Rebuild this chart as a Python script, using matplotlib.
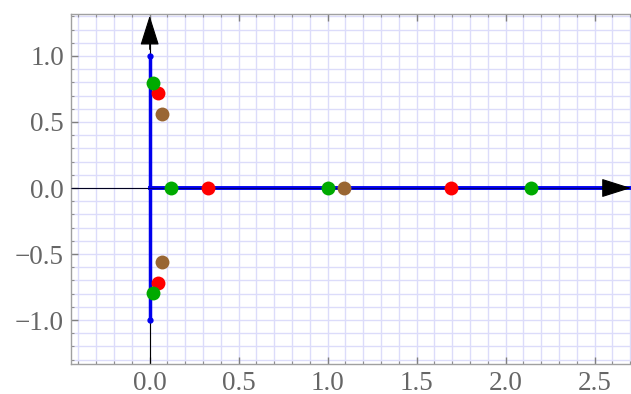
import numpy as np
import matplotlib.pyplot as plt
from matplotlib.ticker import MultipleLocator

# Point data
green_x = [0.02, 0.02, 0.118, 1.0, 2.143]
green_y = [0.795, -0.795, 0.0, 0.0, 0.0]
red_x = [0.048, 0.048, 0.33, 1.69]
red_y = [0.718, -0.718, 0.0, 0.0]
brown_x = [0.07, 0.07, 1.093]
brown_y = [0.563, -0.563, 0.0]

# Blue segments: vertical cut and positive real axis
vert_x = [0.0, 0.0]
vert_y = [-1.0, 1.0]
horiz_x = [0.0, 2.72]
horiz_y = [0.0, 0.0]

xlim = (-0.442, 2.704)
ylim = (-1.333, 1.318)

fig = plt.figure(figsize=(6.31, 3.94), dpi=100)
ax = fig.add_axes([71 / 631, 30 / 394, 560 / 631, 350 / 394])
ax.set_xlim(*xlim)
ax.set_ylim(*ylim)

# Fine grid
grid_col = '#dcdcfa'
for gx in np.arange(-0.4, 2.71, 0.1):
    ax.axvline(gx, color=grid_col, lw=1.0, zorder=0)
for gy in np.arange(-1.3, 1.31, 0.1):
    ax.axhline(gy, color=grid_col, lw=1.0, zorder=0)

# Axes through the origin with arrows
ax.plot([xlim[0], 2.6], [0, 0], color='black', lw=0.8, zorder=2)
ax.plot([0, 0], [ylim[0], 1.2], color='black', lw=0.8, zorder=2)
arrow = dict(arrowstyle='-|>,head_length=1.9,head_width=0.6',
             color='black', lw=0.8, shrinkA=0, shrinkB=0)
ax.annotate('', xy=(xlim[1], 0), xytext=(2.55, 0), arrowprops=arrow, zorder=6)
ax.annotate('', xy=(0, 1.305), xytext=(0, 1.05), arrowprops=arrow, zorder=6)

# Blue lines
ax.plot(vert_x, vert_y, color='#0000ee', lw=2.5, zorder=3,
        marker='o', markersize=3.5, solid_capstyle='butt')
ax.plot(horiz_x, horiz_y, color='#0000ee', lw=2.8, zorder=3)
ax.plot([xlim[0], 2.6], [0, 0], color='#000033', lw=0.45, zorder=3.5)

# Points
ax.scatter(brown_x, brown_y, s=100, color='#996633', zorder=4, linewidths=0)
ax.scatter(red_x, red_y, s=100, color='#ff0000', zorder=4.1, linewidths=0)
ax.scatter(green_x, green_y, s=100, color='#00aa00', zorder=4.2, linewidths=0)

# Frame and ticks
for side in ['left', 'bottom', 'top']:
    ax.spines[side].set_color('#a0a0a0')
    ax.spines[side].set_linewidth(1.0)
ax.spines['right'].set_visible(False)

ax.xaxis.set_major_locator(MultipleLocator(0.5))
ax.xaxis.set_minor_locator(MultipleLocator(0.1))
ax.yaxis.set_major_locator(MultipleLocator(0.5))
ax.yaxis.set_minor_locator(MultipleLocator(0.1))
ax.tick_params(which='major', direction='in', length=5, width=1.0,
               color='#808080', top=True, right=False,
               labelsize=19.5, labelcolor='#666666', pad=5)
ax.tick_params(which='minor', direction='in', length=2.5, width=0.8,
               color='#909090', top=True, right=False)
xt = np.arange(0.0, 2.51, 0.5)
ax.set_xticks(xt)
ax.set_xticklabels([f'{v:.1f}' for v in xt])
yt = np.arange(-1.0, 1.01, 0.5)
ax.set_yticks(yt)
ax.set_yticklabels([f'{v:.1f}'.replace('-', '\u2212') if abs(v) > 1e-9 else '0.0' for v in yt])
for lab in ax.get_xticklabels() + ax.get_yticklabels():
    lab.set_family('Liberation Serif')

fig.savefig('out.png', dpi=100)
